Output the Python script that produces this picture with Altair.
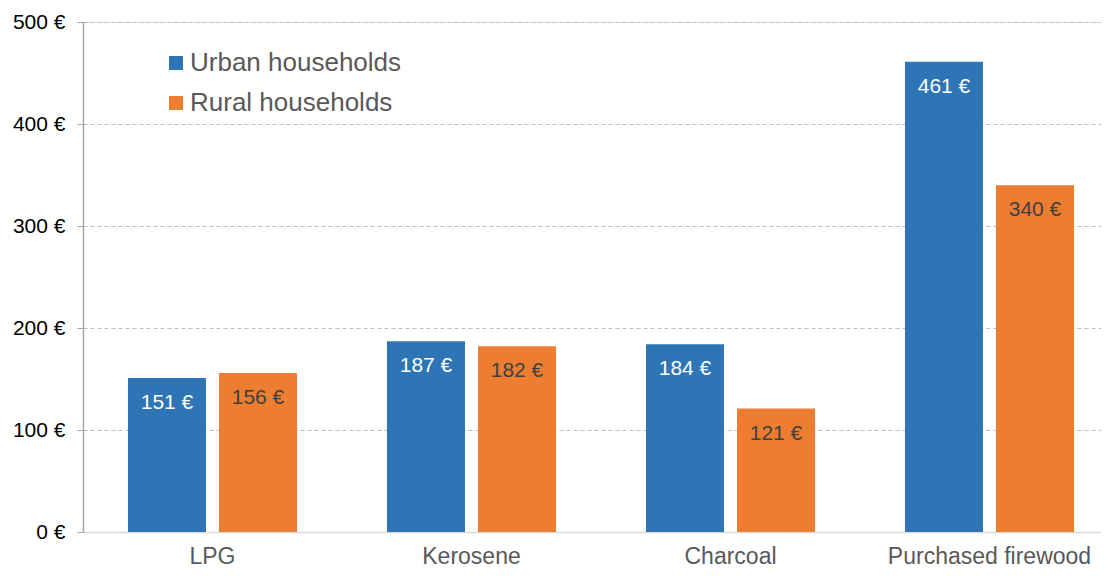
import altair as alt
import pandas as pd

categories = ["LPG", "Kerosene", "Charcoal", "Purchased firewood"]
series_names = ["Urban households", "Rural households"]
urban = [151, 187, 184, 461]
rural = [156, 182, 121, 340]
y_ticks = [0, 100, 200, 300, 400, 500]

bar_colors = ["#2E75B6", "#ED7D31"]
label_colors = ["#FFFFFF", "#404040"]

rows = []
for i, c in enumerate(categories):
    for s, vals, tc in zip(series_names, [urban, rural], label_colors):
        rows.append({"category": c, "series": s, "value": vals[i],
                     "label": f"{vals[i]} €", "tcolor": tc})
df = pd.DataFrame(rows)

FONT = "Liberation Sans"

x = alt.X("category:N", sort=categories, title=None,
          scale=alt.Scale(paddingInner=0, paddingOuter=0, range=[0, 1036]),
          axis=alt.Axis(labelFontSize=23, labelColor="#595959", labelFont=FONT,
                        ticks=False, labelPadding=13, domainColor="#D9D9D9",
                        domainWidth=1.5, grid=False, labelAngle=0, labelLimit=0))
xo = alt.XOffset("series:N", sort=series_names,
                 scale=alt.Scale(paddingInner=0.143, paddingOuter=0.494))
y = alt.Y("value:Q", title=None,
          scale=alt.Scale(domain=[0, 500], nice=False),
          axis=alt.Axis(values=y_ticks, labelExpr="datum.value + ' €'",
                        labelFontSize=21, labelColor="#000000", labelFont=FONT,
                        tickSize=6, tickColor="#A6A6A6", labelPadding=12,
                        domainColor="#A6A6A6", domainWidth=1.5,
                        grid=True, gridColor="#BFBFBF", gridDash=[4, 3],
                        gridWidth=1))

bars = alt.Chart(df).mark_bar().encode(
    x=x, xOffset=xo, y=y,
    color=alt.Color("series:N", sort=series_names,
                    scale=alt.Scale(domain=series_names, range=bar_colors),
                    legend=alt.Legend(title=None, orient="none", legendX=80, legendY=28,
                                      symbolType="square", symbolSize=196,
                                      symbolStrokeWidth=0, labelLimit=0,
                                      labelFontSize=26, labelColor="#595959",
                                      labelFont=FONT, rowPadding=14,
                                      labelOffset=1, padding=0)),
)

labels = alt.Chart(df).mark_text(baseline="middle", dy=25, fontSize=21,
                                 font=FONT).encode(
    x=x, xOffset=xo, y=y,
    text="label:N",
    color=alt.Color("tcolor:N", scale=None),
)

chart = alt.layer(bars, labels).resolve_scale(color="independent").properties(
    width=1018, height=510,
    autosize=alt.AutoSizeParams(type="none"),
    padding={"left": 75, "top": 14, "right": 0, "bottom": 36},
).configure_view(stroke=None).configure(font=FONT)

chart.save("out.html", embed_options={"renderer": "svg", "actions": False})
